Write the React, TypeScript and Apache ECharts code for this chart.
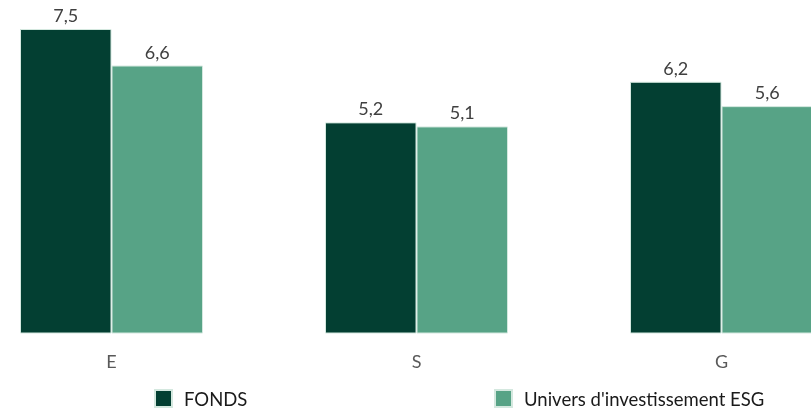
import React, { useEffect, useRef } from "react";
import * as echarts from "echarts";

const categories = ["E", "S", "G"];
const fondsValues = [7.5, 5.2, 6.2];
const universValues = [6.6, 5.1, 5.6];
const seriesNames = ["FONDS", "Univers d'investissement ESG"];

const OFFSET_LEFT = 41;
const CHART_WIDTH = 915;

export default function App() {
  const ref = useRef<HTMLDivElement>(null);
  useEffect(() => {
    if (!ref.current) return;
    const chart = echarts.init(ref.current, undefined, { renderer: "svg" });
    const font = "Lato, 'Noto Sans', sans-serif";
    const labelStyle = {
      show: true,
      position: "top",
      distance: 5,
      color: "#404040",
      fontSize: 18,
      fontFamily: font,
      formatter: (p: any) => String(p.value).replace(".", ","),
    };
    const legendText = { fontSize: 18.5, fontFamily: font, color: "#1a1a1a", padding: [0, 0, 0, 7] };
    chart.setOption({
      animation: false,
      grid: { left: 0, right: 0, top: 8.7, bottom: 77.5, containLabel: false },
      legend: [
        {
          data: [seriesNames[0]],
          left: 154 + OFFSET_LEFT,
          top: 389,
          padding: 0,
          itemWidth: 17,
          itemHeight: 17,
          icon: "rect",
          textStyle: legendText,
        },
        {
          data: [seriesNames[1]],
          left: 494 + OFFSET_LEFT,
          top: 389,
          padding: 0,
          itemWidth: 17,
          itemHeight: 17,
          icon: "rect",
          textStyle: legendText,
        },
      ],
      xAxis: {
        type: "category",
        data: categories,
        axisLine: { show: false },
        axisTick: { show: false },
        axisLabel: { margin: 18, fontSize: 18, fontFamily: font, color: "#595959" },
      },
      yAxis: {
        type: "value",
        min: 0,
        max: 8,
        show: false,
        splitLine: { show: false },
      },
      series: [
        {
          name: seriesNames[0],
          type: "bar",
          data: fondsValues,
          barGap: "0%",
          barCategoryGap: "40%",
          itemStyle: { color: "#033f32", borderColor: "#d4e8df", borderWidth: 1 },
          label: labelStyle,
        },
        {
          name: seriesNames[1],
          type: "bar",
          data: universValues,
          itemStyle: { color: "#57a386", borderColor: "#d4e8df", borderWidth: 1 },
          label: labelStyle,
        },
      ],
    });
    return () => chart.dispose();
  }, []);
  return (
    <div
      style={{ position: "fixed", left: 0, top: 0, width: 811, height: 411, overflow: "hidden" }}
    >
      <div
        ref={ref}
        style={{ position: "absolute", left: -OFFSET_LEFT, top: 0, width: CHART_WIDTH, height: 411 }}
      />
    </div>
  );
}
